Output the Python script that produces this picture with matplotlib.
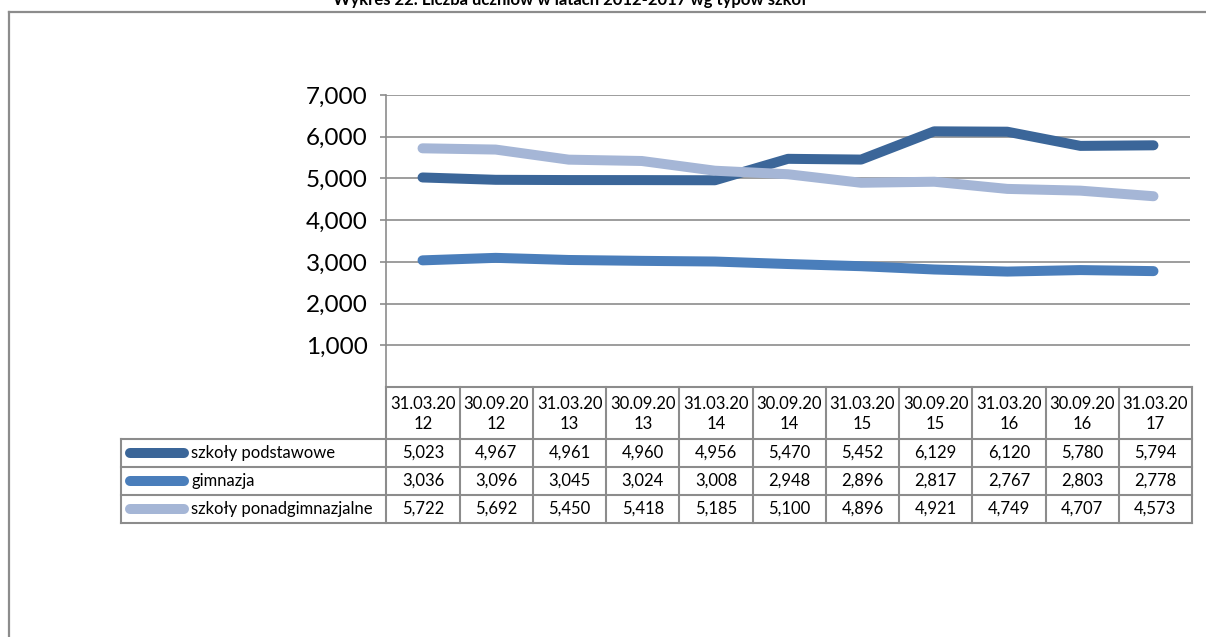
import numpy as np
import matplotlib
matplotlib.use('Agg')
import matplotlib.pyplot as plt
from matplotlib.lines import Line2D
from matplotlib.ticker import FuncFormatter

plt.rcParams['font.family'] = ['Lato', 'DejaVu Sans']

dates = ['31.03.20\n12', '30.09.20\n12', '31.03.20\n13', '30.09.20\n13', '31.03.20\n14',
         '30.09.20\n14', '31.03.20\n15', '30.09.20\n15', '31.03.20\n16', '30.09.20\n16',
         '31.03.20\n17']
podstawowe = [5023, 4967, 4961, 4960, 4956, 5470, 5452, 6129, 6120, 5780, 5794]
gimnazja = [3036, 3096, 3045, 3024, 3008, 2948, 2896, 2817, 2767, 2803, 2778]
ponadgimnazjalne = [5722, 5692, 5450, 5418, 5185, 5100, 4896, 4921, 4749, 4707, 4573]
series_names = ['szkoły podstawowe', 'gimnazja', 'szkoły ponadgimnazjalne']
series = [podstawowe, gimnazja, ponadgimnazjalne]
colors = ['#3b6699', '#4a7ebb', '#a5b6d6']

W, H = 1206, 637
fig = plt.figure(figsize=(W / 100, H / 100), dpi=100)
grey = '#8c8c8c'

def box(x0, y0, x1, y1):
    # pixel box (top-left origin) -> figure fraction
    return [x0 / W, 1 - y1 / H, (x1 - x0) / W, (y1 - y0) / H]

# outer frame (only top and left visible)
fig.add_artist(Line2D([9 / W, 9 / W], [0, 1 - 12 / H], color=grey, lw=1.6))
fig.add_artist(Line2D([9 / W, 1], [1 - 12 / H, 1 - 12 / H], color=grey, lw=1.6))

fig.text(570 / W, 1 - 5 / H, 'Wykres 22. Liczba uczniów w latach 2012-2017 wg typów szkół',
         ha='center', va='baseline', fontsize=12, fontweight='bold')

# line chart
x = np.arange(len(dates))
ax = fig.add_axes(box(386, 95, 1190, 387))
for vals, c in zip(series, colors):
    ax.plot(x, vals, color=c, lw=7.2, solid_capstyle='round', solid_joinstyle='round', zorder=3)
ax.set_xlim(-0.5, len(dates) - 0.5)
ax.set_ylim(0, 7000)
ax.set_yticks(range(1000, 7001, 1000))
ax.yaxis.set_major_formatter(FuncFormatter(lambda v, p: f'{int(v):,}'))
ax.tick_params(axis='y', length=4, width=1.2, color=grey, pad=9, labelsize=17.5)
ax.set_xticks([])
ax.grid(axis='y', color=grey, lw=1.2)
for s in ['top', 'right', 'bottom']:
    ax.spines[s].set_visible(False)
ax.spines['left'].set_color(grey)
ax.spines['left'].set_linewidth(1.2)

# data table below
colw = (1190 - 386) / len(dates)
labw = (386 - 121) / colw
tab = fig.add_axes(box(121, 387, 1192, 523))
tab.set_xlim(-0.5 - labw, len(dates) - 0.5)
tab.set_ylim(136, 0)
tab.axis('off')
rows_y = [0, 52, 80, 108, 136]
lk = dict(color=grey, lw=1.5, clip_on=False)
# horizontal lines
tab.plot([-0.5, len(dates) - 0.5], [0, 0], **lk)
for yy in rows_y[1:]:
    tab.plot([-0.5 - labw, len(dates) - 0.5], [yy, yy], **lk)
# vertical lines
for i in range(len(dates) + 1):
    tab.plot([i - 0.5, i - 0.5], [0, 136], **lk)
tab.plot([-0.5 - labw, -0.5 - labw], [52, 136], **lk)

for i, d in enumerate(dates):
    tab.text(i, 27, d, ha='center', va='center', fontsize=12, linespacing=1.3)
for r, (name, vals, c) in enumerate(zip(series_names, series, colors)):
    yc = (rows_y[r + 1] + rows_y[r + 2]) / 2
    x0 = -0.5 - labw + 9 / colw
    x1 = -0.5 - labw + 63 / colw
    tab.plot([x0, x1], [yc, yc], color=c, lw=7.2, solid_capstyle='round')
    tab.text(-0.5 - labw + 70 / colw, yc, name, ha='left', va='center', fontsize=12)
    for i, v in enumerate(vals):
        tab.text(i, yc, f'{v:,}', ha='center', va='center', fontsize=12)

fig.savefig('out.png', dpi=100)
